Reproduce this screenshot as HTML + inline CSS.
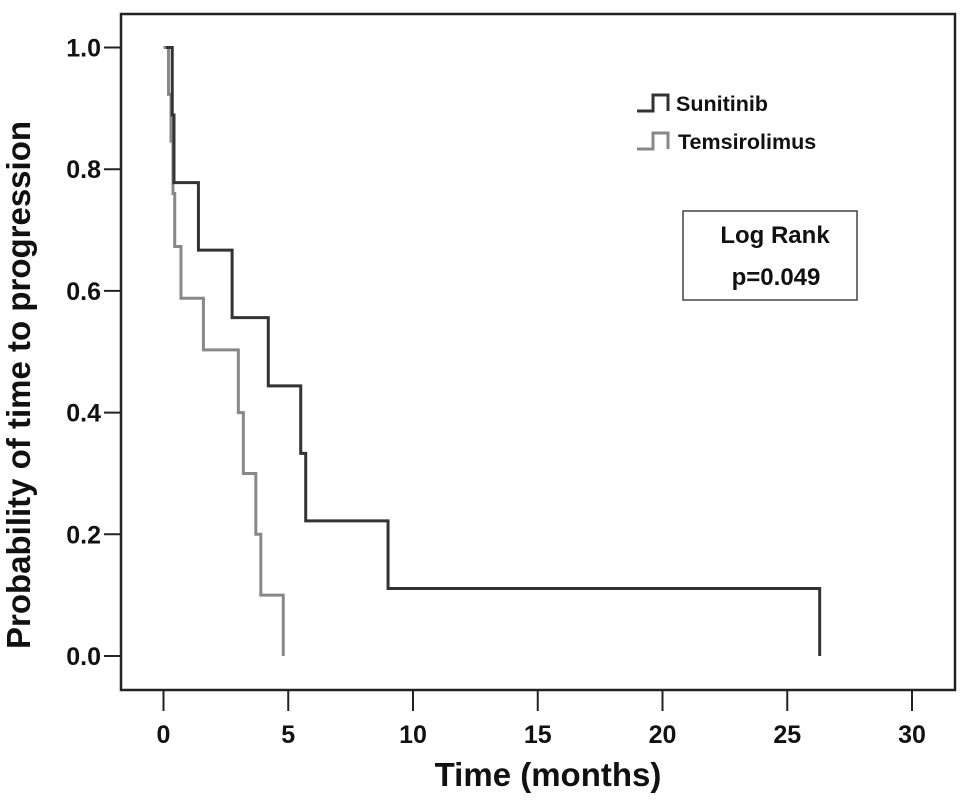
<!DOCTYPE html>
<html><head><meta charset="utf-8">
<style>
html,body{margin:0;padding:0;background:#fff;}
svg{display:block;font-family:"Liberation Sans",Arial,sans-serif;font-weight:bold;}
</style></head>
<body>
<svg id="chart" width="969" height="809" viewBox="0 0 969 809">
  <rect x="121" y="14" width="834" height="676" fill="none" stroke="#222" stroke-width="2.5"/>
  <g id="axes"></g>
  <g id="series"></g>
  <text x="30" y="385" font-size="33" text-anchor="middle" transform="rotate(-90 30 385)" fill="#111">Probability of time to progression</text>
  <text x="548" y="786" font-size="33" text-anchor="middle" fill="#111">Time (months)</text>
  <g>
    <g>
      <path d="M637,111 H653 V95 H668 V111" fill="none" stroke="#333" stroke-width="3"/>
      <text x="676" y="111" font-size="21.5" fill="#111">Sunitinib</text>
    </g>
    <g>
      <path d="M637,149 H653 V133 H668 V149" fill="none" stroke="#888" stroke-width="3"/>
      <text x="678" y="149" font-size="21.5" fill="#111">Temsirolimus</text>
    </g>
  </g>
  <g>
    <rect x="683" y="211" width="174" height="89" fill="#fff" stroke="#444" stroke-width="1.5"/>
    <text x="775" y="243" font-size="24" text-anchor="middle" fill="#111">Log Rank</text>
    <text x="776" y="285" font-size="24" text-anchor="middle" fill="#111">p=0.049</text>
  </g>
</svg>
<script>
const xTicks = [0, 5, 10, 15, 20, 25, 30];
const yTicks = [0.0, 0.2, 0.4, 0.6, 0.8, 1.0];
const sunitinibTimes = [0.1, 0.35, 0.42, 1.4, 2.75, 4.2, 5.5, 5.7, 9.0, 26.3];
const sunitinibSurv = [1.0, 0.889, 0.778, 0.667, 0.556, 0.444, 0.333, 0.222, 0.111, 0.0];
const temsiTimes = [0.0, 0.2, 0.3, 0.38, 0.45, 0.7, 1.6, 3.0, 3.2, 3.7, 3.9, 4.8];
const temsiSurv = [1.0, 0.923, 0.846, 0.76, 0.673, 0.588, 0.503, 0.40, 0.30, 0.20, 0.10, 0.0];

const NS = "http://www.w3.org/2000/svg";
function xs(v){ return 163.5 + v * 24.95; }
function ys(v){ return 656 - v * 608.5; }

const axes = document.getElementById('axes');
xTicks.forEach(t => {
  const l = document.createElementNS(NS, 'line');
  l.setAttribute('x1', xs(t)); l.setAttribute('x2', xs(t));
  l.setAttribute('y1', 690); l.setAttribute('y2', 711);
  l.setAttribute('stroke', '#222'); l.setAttribute('stroke-width', '2');
  
  
  axes.appendChild(l);
  const tx = document.createElementNS(NS, 'text');
  tx.setAttribute('x', xs(t)); tx.setAttribute('y', 743);
  tx.setAttribute('font-size', '25'); tx.setAttribute('text-anchor', 'middle'); tx.setAttribute('fill', '#111');
  tx.textContent = String(t);
  
  
  axes.appendChild(tx);
});
yTicks.forEach(t => {
  const l = document.createElementNS(NS, 'line');
  l.setAttribute('x1', 104); l.setAttribute('x2', 121);
  l.setAttribute('y1', ys(t)); l.setAttribute('y2', ys(t));
  l.setAttribute('stroke', '#222'); l.setAttribute('stroke-width', '2');
  
  
  axes.appendChild(l);
  const tx = document.createElementNS(NS, 'text');
  tx.setAttribute('x', 101); tx.setAttribute('y', ys(t) + 9);
  tx.setAttribute('font-size', '25'); tx.setAttribute('text-anchor', 'end'); tx.setAttribute('fill', '#111');
  tx.textContent = t.toFixed(1);
  
  
  axes.appendChild(tx);
});

function stepPath(times, surv){
  let d = 'M' + xs(times[0]) + ',' + ys(surv[0]);
  for (let i = 1; i < times.length; i++){
    d += ' H' + xs(times[i]) + ' V' + ys(surv[i]);
  }
  return d;
}
const series = document.getElementById('series');
const pt = document.createElementNS(NS, 'path');
pt.setAttribute('d', stepPath(temsiTimes, temsiSurv));
pt.setAttribute('fill', 'none'); pt.setAttribute('stroke', '#888'); pt.setAttribute('stroke-width', '3');


series.appendChild(pt);
const ps = document.createElementNS(NS, 'path');
ps.setAttribute('d', stepPath(sunitinibTimes, sunitinibSurv));
ps.setAttribute('fill', 'none'); ps.setAttribute('stroke', '#333'); ps.setAttribute('stroke-width', '3');


series.appendChild(ps);
</script>
</body></html>
